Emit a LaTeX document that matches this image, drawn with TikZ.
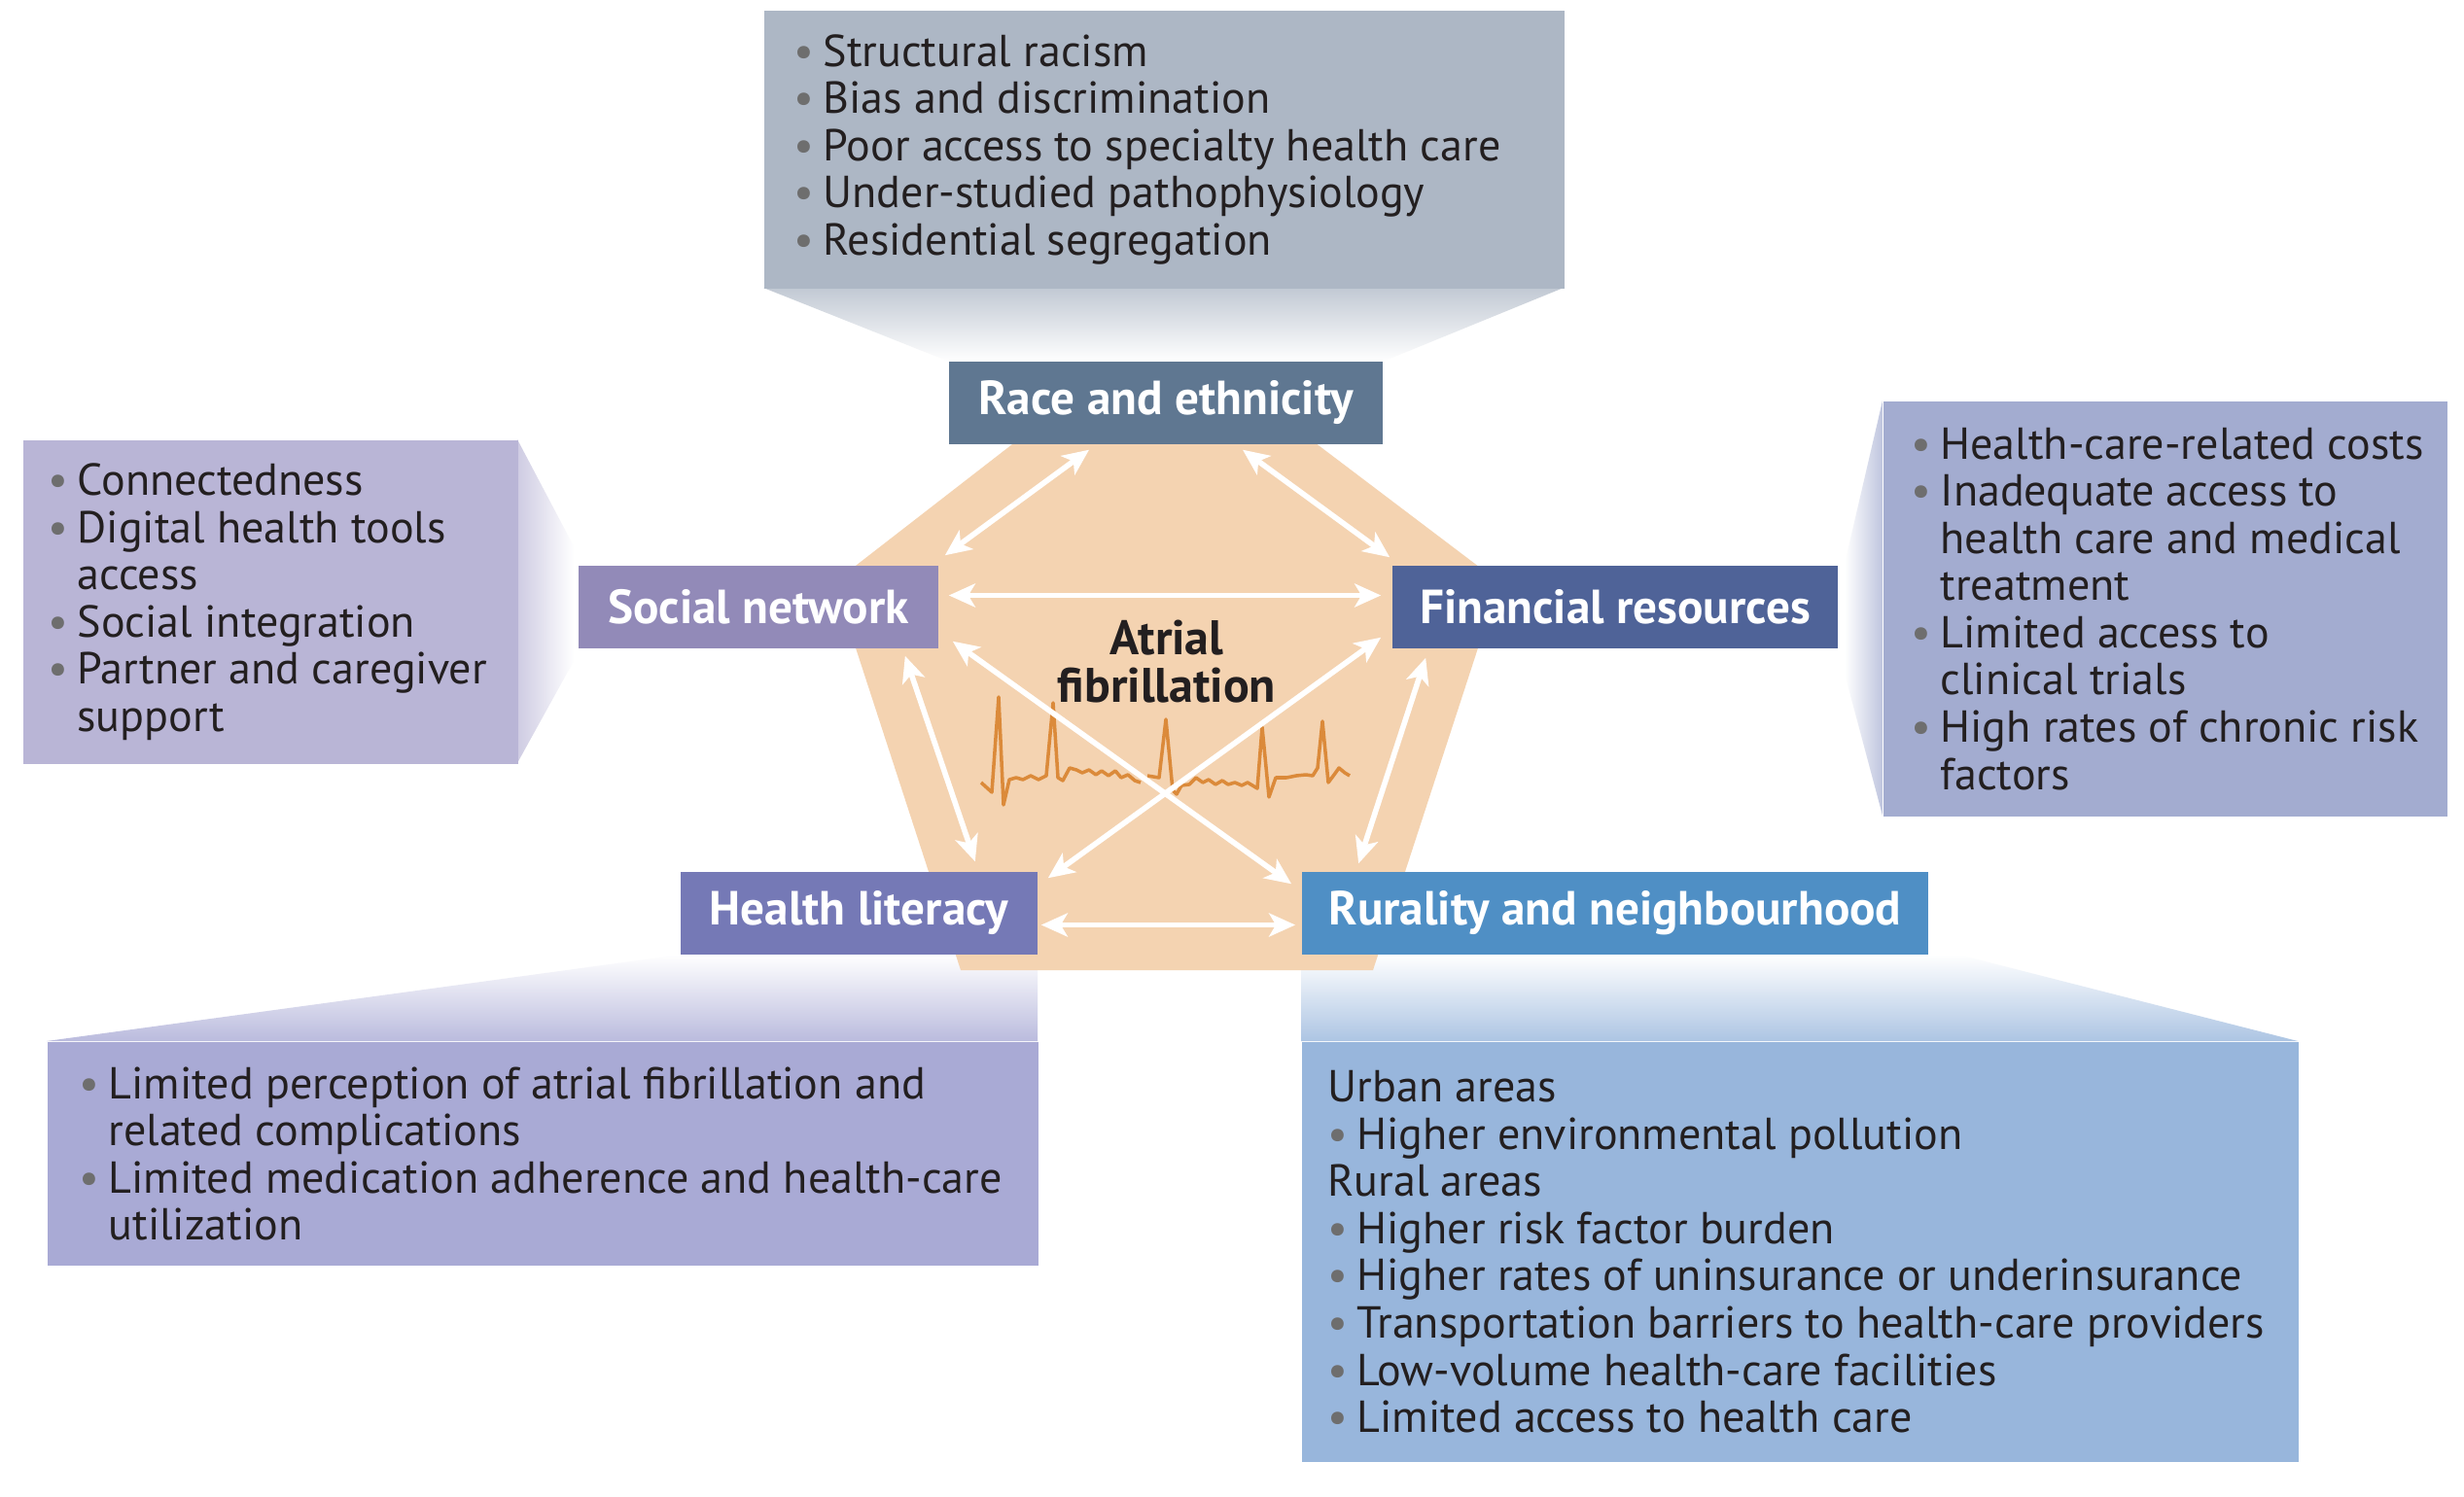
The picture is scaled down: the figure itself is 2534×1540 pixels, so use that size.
\documentclass[tikz,border=0pt]{standalone}
\usepackage{fontspec}
\setmainfont{PT Sans}
\usepackage{xcolor}
\usetikzlibrary{arrows.meta,calc}

\definecolor{topgrey}{HTML}{ADB7C5}
\definecolor{racecol}{HTML}{5F7791}
\definecolor{leftlilac}{HTML}{B9B5D6}
\definecolor{socialcol}{HTML}{928AB8}
\definecolor{rightblue}{HTML}{A3ACD0}
\definecolor{fincol}{HTML}{4F6398}
\definecolor{hlcol}{HTML}{7579B6}
\definecolor{hllist}{HTML}{A9AAD5}
\definecolor{rurcol}{HTML}{4F8FC5}
\definecolor{rurlist}{HTML}{98B6DC}
\definecolor{peach}{HTML}{F4D3B1}
\definecolor{ecgcol}{HTML}{DB8A3A}
\definecolor{bulgrey}{HTML}{6E6E6E}
\definecolor{txtcol}{HTML}{231F20}

\newcommand{\bul}{\makebox[8.5pt][l]{\textcolor{bulgrey}{\textbullet}}}
\newcommand{\ind}{\hspace*{8.5pt}}

\begin{document}
\begin{tikzpicture}[x=0.01cm,y=-0.01cm,
  factor/.style={fill=#1, text=white, font=\fontsize{14}{16}\selectfont\bfseries, minimum height=0.85cm, inner sep=0pt},
  listbox/.style={fill=#1, anchor=north west, inner sep=0pt},
  listtext/.style={anchor=west, align=left, inner sep=0pt, text=txtcol, font=\fontsize{13.1}{13.8}\selectfont},
  link/.style={draw=white, line width=1.6pt, {Stealth[length=0.27cm,width=0.24cm,inset=0.07cm]}-{Stealth[length=0.27cm,width=0.24cm,inset=0.07cm]}},
  ecgline/.style={draw=ecgcol, line width=1pt, line join=round}]
\useasboundingbox (0,0) rectangle (2534,1540);
\fill[white] (0,0) rectangle (2534,1540);

% funnels
\shade[top color=topgrey!75, bottom color=white] (785,296) -- (1608,296) -- (1422,372) -- (976,372) -- cycle;
\shade[left color=leftlilac!70, right color=white] (532,452) -- (590,562) -- (590,680) -- (532,785) -- cycle;
\shade[right color=rightblue!70, left color=white] (1936,412) -- (1897,580) -- (1897,693) -- (1936,839) -- cycle;
\shade[top color=white, bottom color=hllist!80] (48,1071) -- (700,982) -- (1067,982) -- (1067,1071) -- cycle;
\shade[top color=white, bottom color=rurlist!80] (1338,1071) -- (1338,982) -- (2014,982) -- (2363,1071) -- cycle;

% lists
\node[listbox=topgrey, minimum width=8.23cm, minimum height=2.86cm] (racebox) at (785,10) {};
\node[listtext] (racetext) at ($(racebox.west)+(31,0)$) {\bul Structural racism\\ \bul Bias and discrimination\\ \bul Poor access to specialty health care\\ \bul Under-studied pathophysiology\\ \bul Residential segregation};

\node[listbox=leftlilac, minimum width=5.09cm, minimum height=3.33cm] (socialbox) at (23,452) {};
\node[listtext] (socialtext) at ($(socialbox.west)+(26,0)$) {\bul Connectedness\\ \bul Digital health tools\\ \ind access\\ \bul Social integration\\ \bul Partner and caregiver\\ \ind support};

\node[listbox=rightblue, minimum width=5.80cm, minimum height=4.27cm] (finbox) at (1936,412) {};
\node[listtext] (fintext) at ($(finbox.west)+(29,0)$) {\bul Health-care-related costs\\ \bul Inadequate access to\\ \ind health care and medical\\ \ind treatment\\ \bul Limited access to\\ \ind clinical trials\\ \bul High rates of chronic risk\\ \ind factors};

\node[listbox=hllist, minimum width=10.19cm, minimum height=2.30cm] (hlbox) at (48,1071) {};
\node[listtext] (hltext) at ($(hlbox.west)+(33,0)$) {\bul Limited perception of atrial fibrillation and\\ \ind related complications\\ \bul Limited medication adherence and health-care\\ \ind utilization};

\node[listbox=rurlist, minimum width=10.25cm, minimum height=4.32cm] (rurbox) at (1338,1071) {};
\node[listtext] (rurtext) at ($(rurbox.west)+(27,0)$) {Urban areas\\ \bul Higher environmental pollution\\ Rural areas\\ \bul Higher risk factor burden\\ \bul Higher rates of uninsurance or underinsurance\\ \bul Transportation barriers to health-care providers\\ \bul Low-volume health-care facilities\\ \bul Limited access to health care};

% pentagon
\fill[peach] (1063,440) -- (1332,440) -- (1542,599) -- (1412,998) -- (988,998) -- (858,599) -- cycle;

\node[factor=racecol, minimum width=4.46cm] (race) at (1199,414.5) {Race and ethnicity};
\node[factor=socialcol, minimum width=3.70cm] (social) at (780,624.5) {Social network};
\node[factor=fincol, minimum width=4.58cm] (fin) at (1661,624.5) {Financial resources};
\node[factor=hlcol, minimum width=3.67cm] (hl) at (883.5,939.5) {Health literacy};
\node[factor=rurcol, minimum width=6.44cm] (rur) at (1661,939.5) {Rurality and neighbourhood};

\node[align=center, text=txtcol, font=\fontsize{14.2}{13.9}\selectfont\bfseries] (af) at (1200,681) {Atrial\\fibrillation};

\draw[ecgline] (1009,805) -- (1020,815) -- (1027,717) -- (1032,828) -- (1038,802) -- (1045,800) -- (1052,802) -- (1060,798) -- (1068,802) -- (1076,798) -- (1083,723) -- (1088,800) -- (1093,803) -- (1100,790) -- (1107,792) -- (1113,795) -- (1120,792) -- (1127,797) -- (1133,793) -- (1140,798) -- (1147,793) -- (1153,800) -- (1160,797) -- (1167,803) -- (1173,805);
\draw[ecgline] (1180,798) -- (1192,800) -- (1199,740) -- (1206,813) -- (1210,817) -- (1215,808) -- (1223,807) -- (1230,800) -- (1237,805) -- (1243,802) -- (1250,807) -- (1257,803) -- (1263,807) -- (1270,805) -- (1277,808) -- (1283,805) -- (1293,811) -- (1298,748) -- (1305,820) -- (1312,800) -- (1323,800) -- (1333,798) -- (1343,797) -- (1350,798) -- (1355,790) -- (1360,742) -- (1366,805) -- (1372,797) -- (1377,790) -- (1383,795) -- (1388,798);

\draw[link] ($(race.south)+(-79,5)$) -- ($(social.north east)+(6,-10)$);
\draw[link] ($(race.south)+(79,5)$) -- ($(fin.north west)+(-2,-8)$);
\draw[link] ($(social.east)+(10,-12)$) -- ($(fin.west)+(-11,-12)$);
\draw[link] ($(social.south east)+(-35,7)$) -- ($(hl.north east)+(-65,-10)$);
\draw[link] ($(fin.south west)+(35,9)$) -- ($(rur.north west)+(59,-8)$);
\draw[link] ($(hl.east)+(3,12)$) -- ($(rur.west)+(-6,12)$);
\draw[link] ($(social.south east)+(14,-8)$) -- ($(rur.north west)+(-10,13)$);
\draw[link] ($(fin.south west)+(-11,-12)$) -- ($(hl.north east)+(10,7)$);
\end{tikzpicture}
\end{document}
